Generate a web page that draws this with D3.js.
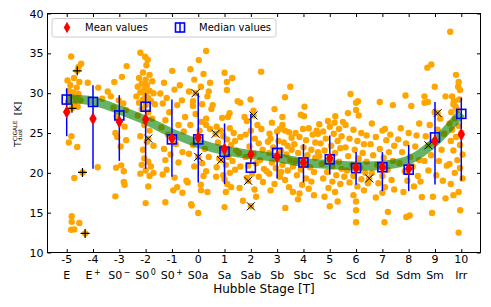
<!DOCTYPE html>
<html>
<head>
<meta charset="utf-8">
<script src="https://cdn.jsdelivr.net/npm/d3@7"></script>
<style>
body{margin:0;background:#fff;}
text{font-family:"DejaVu Sans",sans-serif;}
</style>
</head>
<body>
<div id="chart"></div>
<script>
// hubble stages and their names
var stages = [-5,-4,-3,-2,-1,0,1,2,3,4,5,6,7,8,9,10];
var stageNames = [["E",""],["E","+"],["S0","\u2212"],["S0","0"],["S0","+"],["S0a",""],["Sa",""],["Sab",""],
	["Sb",""],["Sbc",""],["Sc",""],["Scd",""],["Sd",""],["Sdm",""],["Sm",""],["Irr",""]];
var yTicks = [10,15,20,25,30,35,40];

// per stage statistics
var meanVals   = [27.65,26.8,26.4,26.7,24.3,24.45,23.0,22.3,22.05,21.3,21.8,20.6,20.7,20.5,24.0,24.8];
var medianVals = [29.2,28.9,27.2,28.3,24.2,24.2,22.65,20.65,22.5,21.3,21.7,20.6,20.7,20.4,24.45,27.4];
var errLow     = [24.6,20.5,21.5,20.5,19.5,18.8,18.6,21.3,19.3,18.8,19.8,18.5,17.7,17.7,18.55,19.0];
var errHigh    = [30.6,31.0,29.75,30.0,29.2,30.0,26.2,27.4,24.9,23.6,24.7,22.6,22.6,23.5,28.9,29.45];

// smooth fit (green band)
var fitVals = [29.3,29.0,27.9,26.6,25.0,23.7,22.8,22.3,21.9,21.3,21.05,20.85,20.95,21.6,23.9,27.5];

// individual galaxies [T, Tdust]
var galaxies = [
	[-4.83,34.6],[-4.45,33.7],[-4.55,33.3],[-4.97,31.6],[-4.72,31.9],[-4.52,31.4],[-4.86,31.0],[-4.62,30.7],[-4.92,30.3],
	[-4.76,30.1],[-4.55,29.9],[-4.84,29.6],[-4.66,29.3],[-4.48,29.1],[-4.95,28.9],[-4.7,28.6],[-4.58,28.3],[-4.82,24.6],
	[-4.92,23.8],[-4.6,23.25],[-4.71,19.35],[-4.81,14.55],[-4.81,13.85],[-4.52,13.7],[-4.83,12.85],[-4.71,12.9],
	[-4.2,31.3],[-3.8,30.7],[-3.65,29.3],[-3.82,20.7],
	[-3.44,30.2],[-3.19,31.4],[-2.9,32.05],[-2.72,33.4],[-3.32,29.6],[-3.02,29.1],[-2.85,28.7],[-3.22,28.2],[-2.75,27.9],
	[-3.1,27.1],[-2.8,25.8],[-3.15,25.0],[-3.08,24.5],[-2.74,24.1],[-2.95,23.3],[-3.12,20.65],[-2.93,20.94],[-2.83,20.2],
	[-2.83,18.85],[-2.8,18.5],[-3.15,17.05],
	[-2.2,35.07],[-2.02,34.57],[-1.92,34.2],[-1.97,33.5],[-2.1,32.6],[-1.85,32.3],[-2.25,31.9],[-2.0,31.7],[-1.75,31.5],
	[-2.15,31.2],[-1.95,31.0],[-2.3,30.8],[-2.05,30.5],[-1.85,30.3],[-2.2,30.1],[-1.7,30.0],[-2.0,29.8],[-2.35,29.6],
	[-1.9,29.4],[-2.1,29.2],[-1.8,29.0],[-2.25,28.8],[-2.0,28.5],[-1.65,28.6],[-2.15,28.0],[-1.9,27.6],[-2.3,27.2],
	[-1.75,26.8],[-2.05,26.0],[-1.85,25.3],[-2.2,24.6],[-1.95,23.9],[-1.7,23.4],[-2.1,22.9],[-2.05,21.8],[-1.9,21.4],
	[-2.15,21.0],[-1.8,20.8],[-2.0,20.3],[-1.7,20.0],[-2.2,19.9],[-1.85,19.6],[-1.9,18.3],[-2.0,16.2],
	[-0.99,32.8],[-0.9,30.45],[-1.3,31.3],[-1.44,29.96],[-0.7,31.0],[-1.2,29.4],[-0.62,29.1],[-1.35,28.7],[-0.8,28.5],
	[-1.1,27.6],[-0.5,27.0],[-1.25,26.6],[-0.75,26.0],[-1.4,25.7],[-0.55,25.2],[-1.15,24.8],[-0.85,23.6],[-1.3,23.0],
	[-0.6,22.6],[-1.05,22.3],[-1.25,21.6],[-0.75,21.3],[-1.2,20.4],[-0.9,19.4],[-1.25,16.3],[-0.95,17.8],[-0.8,18.2],
	[-0.6,17.5],[-0.45,19.0],[-1.35,19.8],
	[0.02,34.15],[0.3,35.3],[-0.3,33.0],[0.2,32.4],[-0.15,31.7],[0.45,31.3],[0.1,30.8],[-0.35,30.2],[0.4,30.2],[0.35,29.6],
	[-0.2,29.0],[-0.2,28.4],[0.55,28.5],[0.15,28.6],[0.5,28.0],[-0.1,27.4],[0.3,26.8],[0.11,26.4],[-0.3,26.0],[0.3,26.0],
	[0.45,25.5],[0.05,25.3],[-0.2,23.5],[0.25,23.0],[-0.35,22.4],[0.4,22.0],[0.15,21.2],[-0.15,20.8],[0.3,20.2],
	[-0.25,15.9],[0.0,14.95],[0.1,18.5],[-0.4,18.8],[0.35,17.6],[0.2,19.6],[-0.27,16.05],[0.11,17.8],[0.68,19.5],
	[1.0,32.56],[1.29,31.9],[1.09,31.4],[1.09,30.4],[1.19,27.5],[1.13,27.0],[0.91,26.9],[1.5,29.0],[1.6,28.8],
	[0.7,25.8],[0.85,25.3],[1.2,25.6],[1.35,25.0],[0.95,24.6],[1.1,24.2],[1.4,24.0],[0.75,23.8],[1.25,23.5],[0.9,23.1],
	[1.45,22.8],[1.15,22.0],[0.8,21.8],[1.3,21.5],[1.05,21.0],[0.7,20.7],[1.4,20.4],[1.2,20.0],[0.95,19.7],[1.0,19.2],
	[1.1,18.6],[1.25,18.2],[1.05,17.6],[1.0,15.7],[1.7,16.5],[1.57,18.1],[1.55,22.5],[1.6,24.5],[1.6,20.8],[1.76,27.0],
	[2.39,32.7],[1.99,29.2],[2.71,24.9],[2.1,27.8],[1.85,26.5],[2.25,26.0],[2.0,25.3],[2.4,25.5],[1.8,24.8],[2.15,24.3],
	[2.3,23.7],[1.95,23.3],[2.45,22.9],[2.1,22.4],[1.8,22.0],[2.35,21.6],[2.2,21.2],[1.9,20.9],[2.5,20.5],[2.05,19.9],
	[2.3,19.5],[1.85,19.4],[2.46,18.85],[2.14,17.9],[2.2,17.0],[2.6,20.2],
	[3.0,25.2],[3.1,25.5],[3.3,25.3],[3.45,25.1],[2.8,26.3],[3.2,27.0],[2.9,28.0],[3.3,29.5],[3.5,30.8],[2.75,24.3],
	[3.05,24.0],[3.25,23.8],[3.4,23.4],[2.85,23.2],[3.15,22.8],[2.7,22.5],[3.35,22.3],[3.0,21.8],[3.5,21.6],[2.8,21.3],
	[3.2,21.0],[2.95,20.6],[3.4,20.3],[2.7,19.9],[3.1,19.5],[3.3,19.1],[2.9,18.6],[3.45,18.2],[3.6,17.6],[3.31,15.6],
	[2.75,17.8],[3.15,20.1],[3.55,22.9],[2.65,23.9],[3.55,24.4],[3.2,26.0],
	[4.04,28.3],[4.02,27.1],[3.98,25.5],[3.79,16.67],[3.7,25.0],[4.2,25.6],[4.35,24.8],[3.85,24.5],[4.1,24.1],[4.45,23.8],
	[3.65,23.6],[4.0,23.2],[4.3,22.9],[3.8,22.5],[4.15,22.2],[4.45,21.9],[3.7,21.5],[4.05,21.1],[4.25,20.7],[3.9,20.4],
	[4.4,20.1],[3.75,19.7],[4.1,19.3],[4.3,18.9],[3.95,18.5],[4.2,18.0],[3.85,17.4],[4.4,17.2],[4.5,25.3],[3.6,20.8],
	[4.55,22.6],[3.9,27.3],
	[4.93,26.5],[5.21,27.1],[4.6,26.1],[5.0,25.8],[5.35,25.5],[4.75,25.2],[5.15,24.9],[5.45,24.6],[4.85,24.3],[5.3,24.0],
	[4.65,23.7],[5.05,23.4],[5.4,23.1],[4.8,22.8],[5.2,22.5],[4.6,22.1],[5.0,21.9],[5.35,21.4],[4.7,21.1],[5.1,20.8],
	[5.45,20.5],[4.9,20.1],[5.25,19.7],[4.75,19.3],[5.1,18.9],[5.4,18.6],[4.95,18.1],[5.2,17.6],[4.8,17.0],[5.3,16.4],
	[5.0,15.8],[5.5,26.4],[4.55,24.9],[5.18,26.3],
	[5.79,29.9],[6.07,29.0],[6.0,28.8],[5.69,27.5],[6.0,27.9],[6.1,27.2],[5.6,26.0],[5.9,25.4],[6.2,25.0],[6.4,24.7],
	[5.75,24.3],[6.05,24.0],[6.3,23.6],[5.6,23.2],[5.95,22.9],[6.25,22.5],[5.7,22.1],[6.1,21.8],[6.4,21.4],[5.85,21.0],
	[6.15,20.6],[5.65,20.3],[6.35,20.0],[5.9,19.6],[6.2,19.2],[5.75,18.8],[6.05,18.3],[6.3,17.8],[5.9,17.2],[6.0,16.4],
	[6.0,15.3],[6.0,13.8],[6.45,18.7],[5.55,19.5],
	[6.9,28.9],[7.4,28.5],[6.6,26.2],[7.0,25.3],[7.3,24.8],[6.75,24.5],[7.15,24.1],[6.55,23.6],[7.45,23.4],[6.9,23.0],
	[7.25,22.6],[6.65,22.2],[7.05,21.9],[7.4,21.5],[6.8,21.0],[7.2,20.4],[6.6,20.0],[7.0,19.6],[7.35,19.1],[6.85,18.7],
	[7.1,18.2],[7.0,17.5],[6.75,16.9],[7.21,15.1],[7.08,13.8],[7.45,17.9],[7.1,25.5],
	[7.88,29.7],[8.1,28.4],[7.7,25.6],[8.0,25.0],[8.3,24.7],[7.6,24.2],[7.9,23.7],[8.25,23.3],[7.75,22.6],[8.05,22.0],
	[8.4,21.6],[7.65,21.2],[8.15,20.8],[7.85,20.2],[8.35,19.6],[7.95,19.0],[8.2,18.3],[7.8,17.6],[8.5,16.96],[7.91,14.45],
	[8.04,14.65],[8.45,18.9],[8.4,26.2],
	[8.86,33.6],[8.71,33.2],[8.99,30.8],[8.6,29.6],[8.6,28.8],[8.73,28.9],[9.4,29.6],[8.99,27.6],[9.2,26.8],[8.8,26.0],
	[9.1,25.4],[9.35,24.9],[8.65,24.6],[9.0,23.8],[9.25,22.9],[8.85,22.2],[9.15,21.5],[9.45,20.9],[8.75,20.3],[9.05,19.7],
	[9.3,19.0],[8.92,17.0],[9.4,16.8],[8.89,14.95],[8.6,21.5],
	[9.58,37.7],[9.8,32.3],[9.9,31.4],[9.88,30.8],[9.95,30.4],[9.65,29.6],[9.72,29.0],[9.78,28.3],[9.62,27.6],[9.85,27.9],
	[9.7,28.6],[9.92,29.2],[9.75,26.8],[9.55,26.2],[9.9,25.9],[9.65,25.4],[10.0,25.0],[9.8,24.5],[9.6,24.0],[9.95,23.5],
	[9.7,22.8],[10.05,22.3],[9.85,21.6],[9.55,21.1],[9.95,20.6],[9.75,20.0],[10.05,19.3],[9.6,18.6],[9.9,17.6],[9.7,17.2],
	[9.96,15.3],[9.9,12.5]
];

// special objects (they are galaxies too, drawn with an extra black mark)
var crossX = [[-0.1,30.0],[-1.9,24.3],[0.66,24.9],[0.0,22.0],[0.87,21.6],[1.9,19.0],[2.0,15.8],[2.1,27.2],[6.5,19.3],[8.75,23.45],[9.1,27.5]];
var crossPlus = [[-4.6,32.8],[-4.8,28.1],[-4.4,20.05],[-4.3,12.4]];

var width = 491, height = 307;
var svg = d3.select("#chart").append("svg").attr("width",width).attr("height",height);

var x = d3.scaleLinear().domain([-5.73,10.73]).range([47.5,480.5]);
var y = d3.scaleLinear().domain([10,40]).range([252.5,13.5]);

// galaxies
svg.append("g").selectAll("circle").data(galaxies.concat(crossX,crossPlus)).enter().append("circle")
	.attr("cx",function(d){return x(d[0]);})
	.attr("cy",function(d){return y(d[1]);})
	.attr("r",3.2)
	.attr("fill","#ffa500");

// fit band
var fitLine = d3.line()
	.x(function(d,i){return x(stages[i]);})
	.y(function(d){return y(d);})
	.curve(d3.curveCatmullRom);
svg.append("path").attr("d",fitLine(fitVals))
	.attr("fill","none").attr("stroke","#008000").attr("stroke-opacity",0.6)
	.attr("stroke-width",9);

// black markers
svg.append("g").selectAll("path").data(crossX).enter().append("path")
	.attr("d",function(d){var cx=x(d[0]),cy=y(d[1]);
		return "M"+(cx-4)+","+(cy-4)+"L"+(cx+4)+","+(cy+4)+"M"+(cx-4)+","+(cy+4)+"L"+(cx+4)+","+(cy-4);})
	.attr("stroke","black").attr("stroke-width",1);
svg.append("g").selectAll("path").data(crossPlus).enter().append("path")
	.attr("d",function(d){var cx=x(d[0]),cy=y(d[1]);
		return "M"+(cx-4.5)+","+cy+"L"+(cx+4.5)+","+cy+"M"+cx+","+(cy-4.5)+"L"+cx+","+(cy+4.5);})
	.attr("stroke","black").attr("stroke-width",1.2);

// error bars
svg.append("g").selectAll("line").data(stages).enter().append("line")
	.attr("x1",function(d){return x(d);}).attr("x2",function(d){return x(d);})
	.attr("y1",function(d,i){return y(errLow[i]);})
	.attr("y2",function(d,i){return y(errHigh[i]);})
	.attr("stroke","blue").attr("stroke-width",1.5);

// medians
svg.append("g").selectAll("rect").data(stages).enter().append("rect")
	.attr("x",function(d){return x(d)-4.5;})
	.attr("y",function(d,i){return y(medianVals[i])-4.5;})
	.attr("width",9).attr("height",9)
	.attr("fill","none").attr("stroke","blue").attr("stroke-width",1.6);

// means
function diamond(cx,cy,w,h){
	return "M"+cx+","+(cy-h/2)+"L"+(cx+w/2)+","+cy+"L"+cx+","+(cy+h/2)+"L"+(cx-w/2)+","+cy+"Z";
}
svg.append("g").selectAll("path").data(stages).enter().append("path")
	.attr("d",function(d,i){return diamond(x(d),y(meanVals[i]),7.5,13);})
	.attr("fill","red");

// axes, inward ticks on every side
function styleAxis(g){
	g.select(".domain").remove();
	g.selectAll(".tick line").attr("stroke","black");
	g.attr("font-family","DejaVu Sans").attr("font-size",11);
	g.selectAll(".tick text").attr("fill","black");
}
svg.append("g").attr("transform","translate(0,252.5)")
	.call(d3.axisBottom(x).tickValues(stages).tickSizeInner(-3.5).tickSizeOuter(0).tickFormat(""))
	.call(styleAxis);
svg.append("g").attr("transform","translate(0,13.5)")
	.call(d3.axisTop(x).tickValues(stages).tickSizeInner(-3.5).tickSizeOuter(0).tickFormat(""))
	.call(styleAxis);
svg.append("g").attr("transform","translate(47.5,0)")
	.call(d3.axisLeft(y).tickValues(yTicks).tickSizeInner(-3.5).tickSizeOuter(0).tickPadding(4))
	.call(styleAxis);
svg.append("g").attr("transform","translate(480.5,0)")
	.call(d3.axisRight(y).tickValues(yTicks).tickSizeInner(-3.5).tickSizeOuter(0).tickFormat(""))
	.call(styleAxis);

svg.append("rect").attr("x",47.5).attr("y",13.5).attr("width",433).attr("height",239)
	.attr("fill","none").attr("stroke","black").attr("stroke-width",1);

// two line x tick labels
var lab = svg.append("g").attr("font-size",11).attr("text-anchor","middle");
stages.forEach(function(s,i){
	lab.append("text").attr("x",x(s)).attr("y",262.5).text(s);
	var t = lab.append("text").attr("x",x(s)).attr("y",278.5);
	t.append("tspan").text(stageNames[i][0]);
	if(stageNames[i][1]!=""){
		t.append("tspan").attr("dx",1.5).attr("dy",-4).attr("font-size",8).text(stageNames[i][1]);
	}
});

svg.append("text").attr("x",264).attr("y",293).attr("text-anchor","middle")
	.attr("font-size",12).text("Hubble Stage [T]");

// y label: T_dust^CIGALE [K]
var yl = svg.append("g").attr("transform","translate(20.6,147) rotate(-90)");
var tT = yl.append("text").attr("x",0).attr("y",0).attr("font-size",9.5).text("T");
var wT = tT.node().getComputedTextLength();
var tSup = yl.append("text").attr("x",wT+0.3).attr("y",-3.2).attr("font-size",5.6).text("CIGALE");
var tSub = yl.append("text").attr("x",wT+0.3).attr("y",1.2).attr("font-size",5.6).text("dust");
var wS = Math.max(tSup.node().getComputedTextLength(),tSub.node().getComputedTextLength());
yl.append("text").attr("x",wT+wS+5.5).attr("y",0).attr("font-size",9.5).text("[K]");

// legend
var lg = svg.append("g");
lg.append("rect").attr("x",52).attr("y",18.5).attr("width",224).attr("height",18.5).attr("rx",2.5)
	.attr("fill","white").attr("fill-opacity",0.8).attr("stroke","#cccccc").attr("stroke-width",1);
lg.append("path").attr("d",diamond(67,27.5,6.5,11.5)).attr("fill","red");
lg.append("text").attr("x",85).attr("y",31).attr("font-size",10).text("Mean values");
lg.append("line").attr("x1",180).attr("x2",180).attr("y1",22.5).attr("y2",32.5)
	.attr("stroke","blue").attr("stroke-width",1.5);
lg.append("rect").attr("x",175.5).attr("y",23).attr("width",9).attr("height",9)
	.attr("fill","none").attr("stroke","blue").attr("stroke-width",1.6);
lg.append("text").attr("x",199).attr("y",31).attr("font-size",10).text("Median values");
</script>
</body>
</html>
